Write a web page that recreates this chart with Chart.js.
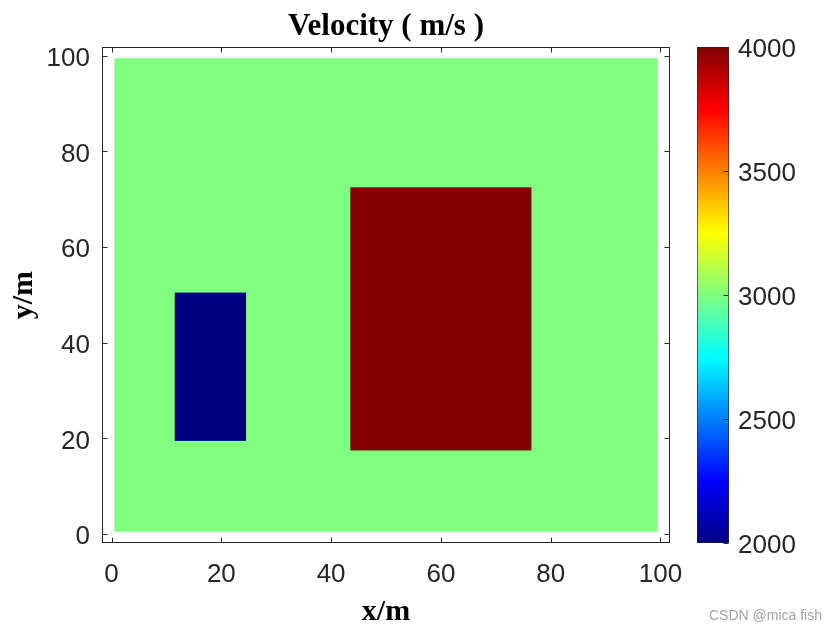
<!DOCTYPE html>
<html>
<head>
<meta charset="utf-8">
<script src="https://cdn.jsdelivr.net/npm/chart.js@4/dist/chart.umd.min.js"></script>
<style>
  body { margin: 0; background: #fff; }
  #wrap { position: relative; width: 840px; height: 630px; }
  #model { position: absolute; left: 0; top: 0; }
  #bar { position: absolute; left: 680px; top: 0; }
  #mark { position: absolute; left: 709px; top: 607px; font: 14px "Liberation Sans", Arial, sans-serif; color: #a3a3a3; white-space: nowrap; }
</style>
</head>
<body>
<div id="wrap">
  <canvas id="model" width="840" height="630"></canvas>
  <canvas id="bar" width="160" height="630"></canvas>
  <div id="mark">CSDN @mica fish</div>
</div>
<script>
// velocity model (grid nodes 1..99, each cell is 1 m wide)
var xTicks = [0, 20, 40, 60, 80, 100];
var yTicks = [0, 20, 40, 60, 80, 100];
var cbTicks = [2000, 2500, 3000, 3500, 4000];

var modelX = [1, 99];
var modelY = [1, 99];
var backgroundVelocity = 3000;

var blockNames    = ['low velocity', 'high velocity'];
var blockXFrom    = [12, 44];
var blockXTo      = [24, 76];
var blockYFrom    = [20, 18];
var blockYTo      = [50, 72];
var blockVelocity = [2000, 4000];

var vMin = 2000, vMax = 4000;

var tickFont  = { family: '"Liberation Sans", Arial, sans-serif', size: 26 };
var labelFont = { family: '"Liberation Serif", "Times New Roman", serif', size: 30, weight: 'bold' };
var axisColor = '#262626';

function jet(v) {
    var t = (v - vMin) / (vMax - vMin);
    function c(x) { return Math.round(255 * Math.max(0, Math.min(1, x))); }
    return 'rgb(' + c(1.5 - Math.abs(4 * t - 3)) + ',' + c(1.5 - Math.abs(4 * t - 2)) + ',' + c(1.5 - Math.abs(4 * t - 1)) + ')';
}

// fills the model cells through the chart scales
var modelPlugin = {
    id: 'velocityModel',
    beforeDatasetsDraw: function (chart) {
        var ctx = chart.ctx, x = chart.scales.x, y = chart.scales.y;
        function cell(x0, x1, y0, y1, v) {
            var l = x.getPixelForValue(x0 - 0.5), r = x.getPixelForValue(x1 + 0.5);
            var t = y.getPixelForValue(y1 + 0.5), b = y.getPixelForValue(y0 - 0.5);
            ctx.fillStyle = jet(v);
            ctx.fillRect(l, t, r - l, b - t);
        }
        ctx.save();
        cell(modelX[0], modelX[1], modelY[0], modelY[1], backgroundVelocity);
        for (var i = 0; i < blockNames.length; i++) {
            cell(blockXFrom[i], blockXTo[i], blockYFrom[i], blockYTo[i], blockVelocity[i]);
        }
        ctx.restore();
    },
    afterDraw: function (chart) {
        var ctx = chart.ctx, a = chart.chartArea, x = chart.scales.x, y = chart.scales.y;
        var L = Math.round(a.left) + 0.5, R = Math.round(a.right) - 0.5;
        var T = Math.round(a.top) + 0.5, B = Math.round(a.bottom) - 0.5;
        ctx.save();
        ctx.strokeStyle = axisColor;
        ctx.lineWidth = 1;
        ctx.strokeRect(L, T, R - L, B - T);
        ctx.beginPath();
        x.ticks.forEach(function (tk) {
            var px = Math.round(x.getPixelForValue(tk.value)) + 0.5;
            ctx.moveTo(px, B); ctx.lineTo(px, B - 5);
            ctx.moveTo(px, T); ctx.lineTo(px, T + 5);
        });
        y.ticks.forEach(function (tk) {
            var py = Math.round(y.getPixelForValue(tk.value)) + 0.5;
            ctx.moveTo(L, py); ctx.lineTo(L + 5, py);
            ctx.moveTo(R, py); ctx.lineTo(R - 5, py);
        });
        ctx.stroke();
        ctx.restore();
    }
};

new Chart(document.getElementById('model'), {
    type: 'scatter',
    data: { datasets: [] },
    options: {
        responsive: false,
        animation: false,
        layout: { padding: { left: 0, right: 170, top: 0, bottom: 0 } },
        plugins: {
            legend: { display: false },
            tooltip: { enabled: false },
            title: {
                display: true,
                fullSize: false,
                text: 'Velocity ( m/s )',
                color: '#000',
                font: { family: labelFont.family, size: 31, weight: 'bold' },
                padding: { top: 8, bottom: 2 }
            }
        },
        scales: {
            x: {
                type: 'linear',
                position: 'bottom',
                min: -1.75,
                max: 101.75,
                afterBuildTicks: function (s) { s.ticks = xTicks.map(function (v) { return { value: v }; }); },
                afterFit: function (s) { s.height = 87; },
                grid: { display: false, drawTicks: false },
                border: { display: false },
                ticks: { color: axisColor, font: tickFont, padding: 16, maxRotation: 0, autoSkip: false },
                title: { display: true, text: 'x/m', color: '#000', font: labelFont, padding: { top: 0, bottom: 0 } }
            },
            y: {
                type: 'linear',
                position: 'left',
                min: -1.85,
                max: 101.8,
                afterBuildTicks: function (s) { s.ticks = yTicks.map(function (v) { return { value: v }; }); },
                afterFit: function (s) { s.width = 102; },
                grid: { display: false, drawTicks: false },
                border: { display: false },
                ticks: { color: axisColor, font: tickFont, padding: 12, labelOffset: 3, autoSkip: false },
                title: { display: true, text: 'y/m', color: '#000', font: labelFont, padding: { top: 6, bottom: 0 } }
            }
        }
    },
    plugins: [modelPlugin]
});

// colour bar
var jetStops = [[0, 'rgb(0,0,128)'], [0.125, 'rgb(0,0,255)'], [0.375, 'rgb(0,255,255)'],
                [0.625, 'rgb(255,255,0)'], [0.875, 'rgb(255,0,0)'], [1, 'rgb(128,0,0)']];

var barTicks = {
    id: 'barTicks',
    afterDatasetsDraw: function (chart) {
        var ctx = chart.ctx, a = chart.chartArea, y = chart.scales.y;
        var R = Math.round(a.right) - 0.5;
        ctx.save();
        ctx.strokeStyle = axisColor;
        ctx.lineWidth = 1;
        ctx.beginPath();
        y.ticks.forEach(function (tk) {
            var py = Math.round(y.getPixelForValue(tk.value)) + 0.5;
            ctx.moveTo(R, py); ctx.lineTo(R - 5, py);
        });
        ctx.stroke();
        ctx.restore();
    }
};

new Chart(document.getElementById('bar'), {
    type: 'bar',
    data: {
        labels: ['velocity'],
        datasets: [{
            data: [[vMin, vMax]],
            backgroundColor: function (c) {
                var chart = c.chart;
                if (!chart.chartArea) return null;
                var y = chart.scales.y;
                var g = chart.ctx.createLinearGradient(0, y.getPixelForValue(vMin), 0, y.getPixelForValue(vMax));
                jetStops.forEach(function (s) { g.addColorStop(s[0], s[1]); });
                return g;
            },
            borderColor: axisColor,
            borderWidth: 1,
            borderSkipped: false,
            barPercentage: 1,
            categoryPercentage: 1
        }]
    },
    options: {
        responsive: false,
        animation: false,
        layout: { padding: { left: 17, right: 0, top: 47, bottom: 87 } },
        plugins: { legend: { display: false }, tooltip: { enabled: false } },
        scales: {
            x: { display: false },
            y: {
                position: 'right',
                min: vMin,
                max: vMax,
                afterBuildTicks: function (s) { s.ticks = cbTicks.map(function (v) { return { value: v }; }); },
                afterFit: function (s) { s.width = 111; },
                grid: { display: false, drawTicks: false },
                border: { display: false },
                ticks: {
                    color: axisColor, font: tickFont, padding: 9, labelOffset: 3, autoSkip: false,
                    callback: function (v) { return String(v); }
                }
            }
        }
    },
    plugins: [barTicks]
});
</script>
</body>
</html>
